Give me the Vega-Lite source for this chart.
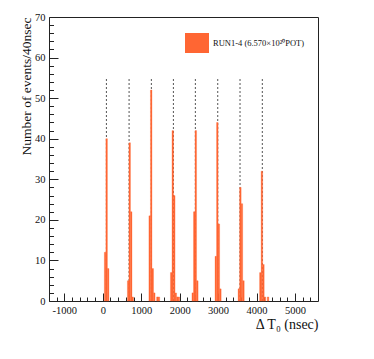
{
  "$schema": "https://vega.github.io/schema/vega-lite/v6.json",
  "width": 269,
  "height": 284,
  "autosize": "none",
  "padding": {"left": 49, "top": 17, "right": 56, "bottom": 58},
  "background": "white",
  "config": {
    "font": "Liberation Serif",
    "view": {"stroke": "#222", "strokeWidth": 1},
    "axis": {"domain": false, "grid": false, "tickColor": "#222", "labelColor": "#111", "titleColor": "#111", "labelFont": "Liberation Serif", "titleFont": "Liberation Serif", "titleFontWeight": "normal"}
  },
  "datasets": {
    "bars": [
      {"start": 40, "end": 80, "count": 12},
      {"start": 80, "end": 120, "count": 40},
      {"start": 120, "end": 160, "count": 8},
      {"start": 640, "end": 680, "count": 5},
      {"start": 680, "end": 720, "count": 39},
      {"start": 720, "end": 760, "count": 22},
      {"start": 760, "end": 800, "count": 1},
      {"start": 1200, "end": 1240, "count": 21},
      {"start": 1240, "end": 1280, "count": 52},
      {"start": 1280, "end": 1320, "count": 8},
      {"start": 1320, "end": 1360, "count": 2},
      {"start": 1400, "end": 1440, "count": 1},
      {"start": 1440, "end": 1480, "count": 1},
      {"start": 1760, "end": 1800, "count": 7},
      {"start": 1800, "end": 1840, "count": 42},
      {"start": 1840, "end": 1880, "count": 26},
      {"start": 1880, "end": 1920, "count": 2},
      {"start": 1920, "end": 1960, "count": 1},
      {"start": 1960, "end": 2000, "count": 1},
      {"start": 2320, "end": 2360, "count": 2},
      {"start": 2360, "end": 2400, "count": 22},
      {"start": 2400, "end": 2440, "count": 42},
      {"start": 2440, "end": 2480, "count": 5},
      {"start": 2920, "end": 2960, "count": 11},
      {"start": 2960, "end": 3000, "count": 44},
      {"start": 3000, "end": 3040, "count": 19},
      {"start": 3040, "end": 3080, "count": 3},
      {"start": 3520, "end": 3560, "count": 3},
      {"start": 3560, "end": 3600, "count": 28},
      {"start": 3600, "end": 3640, "count": 24},
      {"start": 3640, "end": 3680, "count": 5},
      {"start": 4080, "end": 4120, "count": 7},
      {"start": 4120, "end": 4160, "count": 32},
      {"start": 4160, "end": 4200, "count": 9},
      {"start": 4200, "end": 4240, "count": 1},
      {"start": 4280, "end": 4320, "count": 1}
    ],
    "lines": [
      {"pos": 94}, {"pos": 684}, {"pos": 1264}, {"pos": 1837},
      {"pos": 2409}, {"pos": 2991}, {"pos": 3571}, {"pos": 4151}
    ]
  },
  "resolve": {"axis": {"x": "independent", "y": "independent"}},
  "layer": [
    {
      "data": {"name": "lines"},
      "mark": {"type": "rule", "color": "#555", "strokeDash": [2, 2], "strokeWidth": 1},
      "encoding": {
        "x": {"field": "pos", "type": "quantitative", "scale": {"domain": [-1400, 5600], "nice": false, "zero": false},
          "axis": {"orient": "bottom", "values": [-1000, 0, 1000, 2000, 3000, 4000, 5000], "format": "d", "labelExpr": "replace(datum.label, '−', '-')", "tickSize": -8, "labelPadding": 12, "labelFontSize": 10.5, "title": "Δ T₀ (nsec)", "titleFontSize": 14, "titleAnchor": "end", "titleAlign": "right", "titleX": 269, "titleY": 27, "titleBaseline": "alphabetic"}},
        "y": {"datum": 0, "type": "quantitative", "scale": {"domain": [0, 70], "nice": false},
          "axis": {"orient": "left", "values": [0, 10, 20, 30, 40, 50, 60, 70], "tickSize": -9, "labelPadding": 13, "labelFontSize": 10.5, "title": "Number of events/40nsec", "titleFontSize": 13.5, "titleAngle": -90, "titleAlign": "right", "titleAnchor": "end", "titleX": -19, "titleY": 0, "titleBaseline": "alphabetic"}},
        "y2": {"datum": 55}
      }
    },
    {
      "data": {"name": "bars"},
      "mark": {"type": "rect", "stroke": "#ff6633", "strokeWidth": 0.3},
      "encoding": {
        "x": {"field": "start", "type": "quantitative", "scale": {"domain": [-1400, 5600], "nice": false, "zero": false},
          "axis": {"orient": "bottom", "values": [-1400, -1200, -800, -600, -400, -200, 200, 400, 600, 800, 1200, 1400, 1600, 1800, 2200, 2400, 2600, 2800, 3200, 3400, 3600, 3800, 4200, 4400, 4600, 4800, 5200, 5400], "tickSize": -4, "labels": false, "title": null}},
        "x2": {"field": "end"},
        "y": {"field": "count", "type": "quantitative", "scale": {"domain": [0, 70], "nice": false},
          "axis": {"orient": "left", "values": [2, 4, 6, 8, 12, 14, 16, 18, 22, 24, 26, 28, 32, 34, 36, 38, 42, 44, 46, 48, 52, 54, 56, 58, 62, 64, 66, 68], "tickSize": -4.5, "labels": false, "title": null}},
        "y2": {"datum": 0},
        "color": {"datum": "RUN1-4 (6.570×10²⁰POT)", "type": "nominal", "scale": {"range": ["#ff6633"]},
          "legend": {"orient": "none", "legendX": 138, "legendY": 16, "title": null, "padding": 0, "symbolType": "M-1.2,-1L1.2,-1L1.2,1L-1.2,1Z", "symbolSize": 400, "symbolStrokeWidth": 0, "symbolOpacity": 1, "labelFontSize": 8.5, "labelFont": "Liberation Serif", "labelColor": "#111", "labelOffset": 6}}
      }
    },
    {
      "mark": {"type": "rule", "color": "#ff6633", "strokeWidth": 1.5},
      "encoding": {"y": {"datum": 0, "type": "quantitative", "axis": null}}
    }
  ]
}
